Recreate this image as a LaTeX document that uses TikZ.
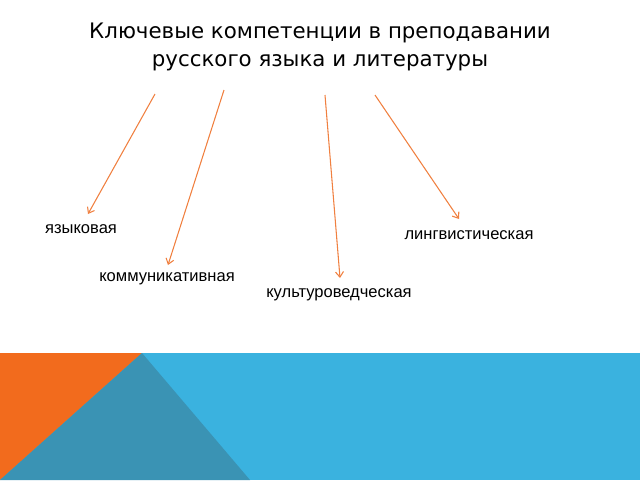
\documentclass[tikz,border=0pt]{standalone}
\usepackage{fontspec}
\setmainfont{Liberation Sans}
\newfontfamily\titlefont{DejaVu Sans}
\usetikzlibrary{arrows.meta}
\definecolor{slideorange}{HTML}{F26B1D}
\definecolor{slideteal}{HTML}{3A93B4}
\definecolor{slideblue}{HTML}{3AB2DF}
\definecolor{arroworange}{HTML}{F08040}

\begin{document}
\begin{tikzpicture}[x=0.75pt,y=-0.75pt,
  kind/.style={inner sep=0pt,font=\fontsize{12.4}{14}\selectfont},
  link/.style={-{Straight Barb[length=4pt,width=6pt]},draw=arroworange,line width=0.8pt}]
\useasboundingbox (0,0) rectangle (640,480);

% bottom band
 \begin{scope}
    \fill[slideblue] (0,353) rectangle (640,480);
    \fill[slideorange] (0,353) -- (142,353) -- (0,480) -- cycle;
    \fill[slideteal] (142,353) -- (250,480) -- (0,480) -- cycle;
\end{scope}

\node[align=center,font=\titlefont\fontsize{16}{20.5}\selectfont] (title) at (320,47)
  {Ключевые компетенции в преподавании\\русского языка и литературы};

\node[kind] (lang) at (81,229) {языковая};
\node[kind] (comm) at (167,279) {коммуникативная};
\node[kind] (cult) at (339,295) {культуроведческая};
\node[kind] (ling) at (469,235) {лингвистическая};

\coordinate (s1) at (155,94);
\coordinate (s2) at (224,90);
\coordinate (s3) at (325,95);
\coordinate (s4) at (375,95);
\coordinate (e1) at (88,214);
\coordinate (e2) at (168,265);
\coordinate (e3) at (340,278);
\coordinate (e4) at (459,219);

\draw[link] (s1) -- (e1);
\draw[link] (s2) -- (e2);
\draw[link] (s3) -- (e3);
\draw[link] (s4) -- (e4);
\end{tikzpicture}
\end{document}
